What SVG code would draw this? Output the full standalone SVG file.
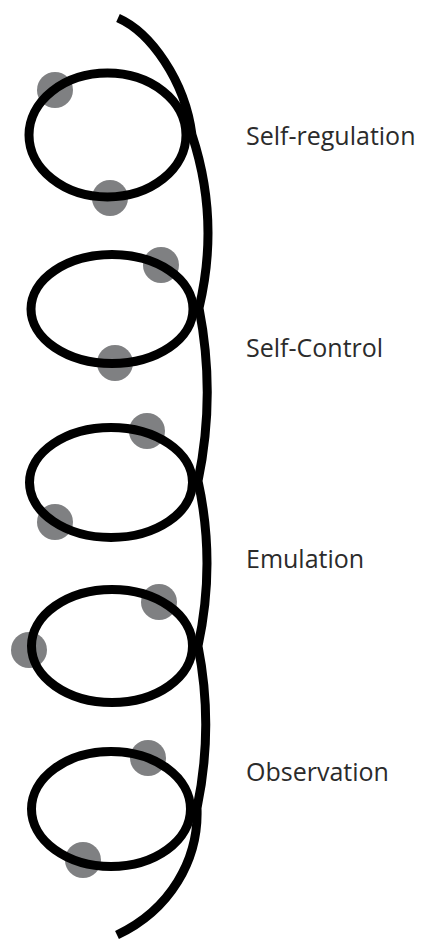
<svg xmlns="http://www.w3.org/2000/svg" width="425" height="941" viewBox="0 0 425 941">
<style>
.dot{fill:#7f8082}
.loop{fill:none;stroke:#000;stroke-width:9}
.spine{fill:none;stroke:#000;stroke-width:9;stroke-linecap:butt}
.lbl{font-family:"Open Sans","DejaVu Sans",sans-serif;font-size:25px;fill:#2b2b2b}
</style>
<rect width="425" height="941" fill="#fff"/>
<g id="dots">
<circle class="dot" cx="55" cy="90" r="18"/>
<circle class="dot" cx="110" cy="198" r="18"/>
<circle class="dot" cx="161" cy="265" r="18"/>
<circle class="dot" cx="115" cy="363" r="18"/>
<circle class="dot" cx="147" cy="431" r="18"/>
<circle class="dot" cx="55" cy="522" r="18"/>
<circle class="dot" cx="159" cy="602" r="18"/>
<circle class="dot" cx="29" cy="650" r="18"/>
<circle class="dot" cx="148" cy="758" r="18"/>
<circle class="dot" cx="83" cy="860" r="18"/>
</g>
<g id="connectors">
<path class="spine" d="M118,18 C150,32 185,80 192,135 Q220,220 199,308 Q216,395 198,481 Q216,563 198,646 Q214,727 197,808 C199,860 170,910 117,935"/>
</g>
<g id="loop-self-regulation">
<ellipse class="loop" cx="107.5" cy="135" rx="78.5" ry="62"/>
<text class="lbl" x="246" y="145">Self-regulation</text>
</g>
<g id="loop-self-control">
<ellipse class="loop" cx="112" cy="309" rx="81" ry="54.5"/>
<text class="lbl" x="246" y="357">Self-Control</text>
</g>
<g id="loop-middle">
<ellipse class="loop" cx="111" cy="482.5" rx="81.5" ry="55"/>
</g>
<g id="loop-emulation">
<ellipse class="loop" cx="112" cy="646" rx="80.5" ry="56.5"/>
<text class="lbl" x="246" y="568">Emulation</text>
</g>
<g id="loop-observation">
<ellipse class="loop" cx="111" cy="809" rx="79.5" ry="57.5"/>
<text class="lbl" x="246" y="781">Observation</text>
</g>
</svg>
